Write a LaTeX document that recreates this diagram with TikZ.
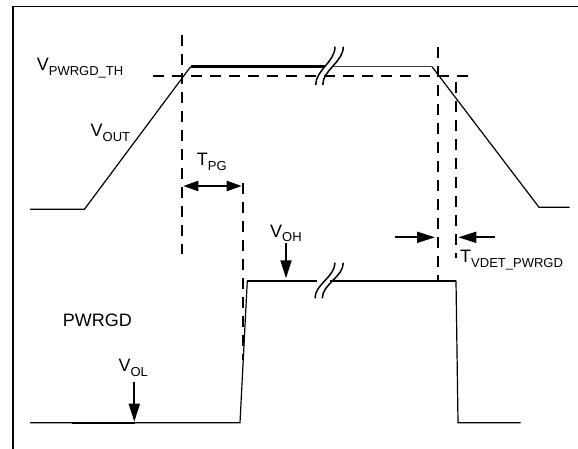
\documentclass[tikz,border=0pt]{standalone}
\usepackage{fontspec}
\setmainfont{Liberation Sans}
\usetikzlibrary{arrows.meta}
\newcommand{\vsub}[2]{#1\raisebox{-4.5pt}{\fontsize{13}{13}\selectfont #2}}
\tikzset{
  lbl/.style={inner sep=0pt, anchor=base west, font=\fontsize{18}{18}\selectfont},
  wave/.style={line width=1.2pt, black},
  wavethick/.style={line width=2.4pt, black},
  guide/.style={line width=2pt, dash pattern=on 11pt off 8pt},
  frameline/.style={line width=1.8pt},
  arr/.style={line width=1.8pt, -{Triangle[length=18pt,width=11pt]}},
  dblarr/.style={line width=2.2pt, {Triangle[length=15pt,width=10pt]}-{Triangle[length=15pt,width=10pt]}},
  brk/.style={line width=1.5pt}
}
\begin{document}
\begin{tikzpicture}[x=1pt,y=-1pt]
\useasboundingbox (0,0) rectangle (578,449);
\fill[white] (0,0) rectangle (578,449);
% frame
\draw[frameline] (13.3,449) -- (13.3,6.5) -- (578,6.5);

% guide lines
\draw[guide] (153,76) -- (475.5,76);
\draw[guide] (181.7,35) -- (181.7,254);
\draw[guide] (437.5,47) -- (437.5,280);
\draw[guide] (456,82) -- (456,258);
\draw[guide] (243.3,183.3) -- (243.3,360);

% VOUT waveform
\draw[wave] (30,209.3) -- (84.4,209.3) -- (190.6,66.7);
\draw[wavethick] (190.6,66.7) -- (325,66.7);
\draw[line width=1.2pt, black!75] (333,66.7) -- (432,66.7);
\draw[wave] (432,66.7) -- (539,207.3) -- (569.5,207.3);
% break marks (top)
\draw[brk] (315.7,85) .. controls (315.7,70) and (335,62) .. (335,46.7);
\draw[brk] (322.7,85) .. controls (322.7,70) and (343.3,62) .. (343.3,46.7);

% PWRGD waveform
\draw[wave] (30,422.7) -- (240,422.7) -- (247.3,280.7);
\draw[line width=2.4pt] (71.7,422.7) -- (135,422.7);
\draw[wavethick] (247.3,280.7) -- (317,280.7);
\draw[wavethick] (330,280.7) -- (456,280.7);
\draw[wave] (456,280.7) -- (458,422.7) -- (520.5,422.7);
% break marks (PWRGD)
\draw[brk] (315,298.3) .. controls (315,284) and (335,277) .. (335,262.7);
\draw[brk] (322.3,298.3) .. controls (322.3,284) and (343.3,277) .. (343.3,262.7);

% labels
\node[lbl] (vth) at (36.7,71) {\vsub{V}{PWRGD\_TH}};
\node[lbl] (vout) at (90.5,137) {\vsub{V}{OUT}};
\node[lbl] (tpg) at (196.7,166) {\vsub{T}{PG}};
\node[lbl] (voh) at (270,237) {\vsub{V}{OH}};
\node[lbl] (pwrgd) at (62.7,326) {PWRGD};
\node[lbl] (vol) at (118.3,371.7) {\vsub{V}{OL}};
\node[lbl] (tvdet) at (460,262.7) {\vsub{T}{VDET\_PWRGD}};

% arrows
\coordinate (tpgL) at (183.3,186);
\coordinate (tpgR) at (241.7,186);
\draw[dblarr] (tpgL) -- (tpgR);
\coordinate (vohA) at (286,243.3);
\coordinate (vohB) at (286,278.3);
\draw[arr] (vohA) -- (vohB);
\coordinate (volA) at (134.3,381.7);
\coordinate (volB) at (134.3,421.7);
\draw[arr] (volA) -- (volB);
\coordinate (tvA) at (395,237.3);
\coordinate (tvB) at (435,237.3);
\draw[arr] (tvA) -- (tvB);
\coordinate (tvC) at (495,237.3);
\coordinate (tvD) at (458.3,237.3);
\draw[arr] (tvC) -- (tvD);
\end{tikzpicture}
\end{document}
